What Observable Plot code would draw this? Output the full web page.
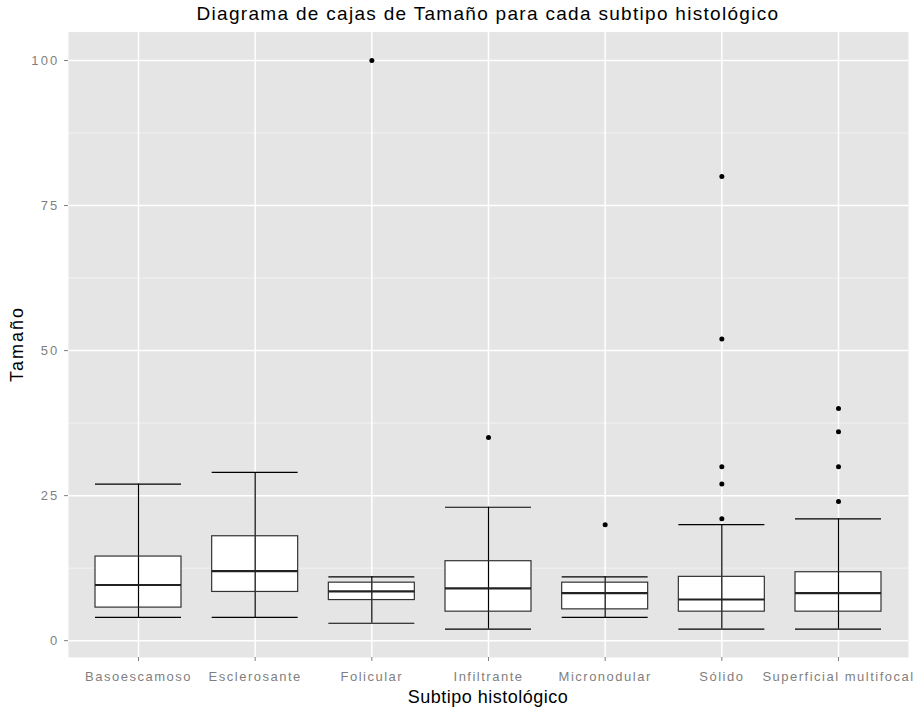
<!DOCTYPE html>
<html><head><meta charset="utf-8">
<script src="https://cdn.jsdelivr.net/npm/d3@7"></script>
<script src="https://cdn.jsdelivr.net/npm/@observablehq/plot@0.6"></script>
<style>
body{margin:0;background:#fff;font-family:"Liberation Sans",Arial,sans-serif;}
#wrap{position:relative;width:921px;height:711px;overflow:hidden;}
#title{position:absolute;left:68px;width:840px;top:4px;line-height:20px;text-align:center;font-size:19px;letter-spacing:1.3px;color:#000;white-space:nowrap;}
#chart{position:absolute;left:0;top:28px;}
#xlab{position:absolute;left:68px;width:840px;top:688px;line-height:18px;text-align:center;font-size:18px;letter-spacing:0.5px;color:#000;white-space:nowrap;}
#ylab{position:absolute;left:17px;top:344px;transform:translate(-50%,-50%) rotate(-90deg);font-size:18px;letter-spacing:2px;color:#000;white-space:nowrap;}
g[aria-label="x-axis tick label"] text{letter-spacing:1.5px;}
g[aria-label="y-axis tick label"] text{letter-spacing:2.2px;}
</style></head><body>
<div id="wrap">
<div id="title">Diagrama de cajas de Tamaño para cada subtipo histológico</div>
<div id="chart"></div>
<div id="xlab">Subtipo histológico</div>
<div id="ylab">Tamaño</div>
</div>
<script>
const categories = ["Basoescamoso","Esclerosante","Folicular","Infiltrante","Micronodular","Sólido","Superficial multifocal"];
const lowerWhisker = [4, 4, 3, 2, 4, 2, 2];
const q1 = [5.7, 8.4, 7, 5, 5.4, 5, 5];
const median = [9.6, 12, 8.5, 9, 8.2, 7.1, 8.2];
const q3 = [14.5, 18, 10, 13.7, 10, 11, 11.8];
const upperWhisker = [27, 29, 11, 23, 11, 20, 21];
const outlierCat = ["Folicular","Infiltrante","Micronodular","Sólido","Sólido","Sólido","Sólido","Sólido","Superficial multifocal","Superficial multifocal","Superficial multifocal","Superficial multifocal"];
const outlierVal = [100, 35, 20, 80, 52, 30, 27, 21, 40, 36, 30, 24];
const yTicks = [0, 25, 50, 75, 100];
const yMinor = [12.5, 37.5, 62.5, 87.5];

const stats = categories.map((c, i) => ({cat: c, lo: lowerWhisker[i], q1: q1[i], med: median[i], q3: q3[i], hi: upperWhisker[i]}));
const outliers = outlierCat.map((c, i) => ({cat: c, v: outlierVal[i]}));

const chart = Plot.plot({
  width: 921, height: 683,
  marginLeft: 68, marginRight: 13, marginTop: 3.6, marginBottom: 54,
  x: {domain: categories, paddingInner: 0.263, paddingOuter: 0.2315, round: false, label: null},
  y: {domain: [-2.9, 104.9], label: null},
  style: {fontFamily: "Liberation Sans, Arial, sans-serif", background: "white", overflow: "visible"},
  marks: [
    Plot.frame({fill: "#e5e5e5", stroke: null}),
    Plot.ruleY(yMinor, {stroke: "#f2f2f2", strokeWidth: 1}),
    Plot.ruleY(yTicks, {stroke: "white", strokeWidth: 1.5}),
    Plot.ruleX(categories, {x: d => d, stroke: "white", strokeWidth: 1.5}),
    Plot.barY(stats, {x: "cat", y1: "q1", y2: "q3", fill: "white"}),
    Plot.ruleX(stats, {x: "cat", y1: "lo", y2: "hi", stroke: "#000", strokeWidth: 1.2}),
    Plot.barY(stats, {x: "cat", y1: "q1", y2: "q3", fill: "none", stroke: "#333", strokeWidth: 1.2}),
    Plot.tickY(stats, {x: "cat", y: "lo", stroke: "#000", strokeWidth: 1.2}),
    Plot.tickY(stats, {x: "cat", y: "hi", stroke: "#000", strokeWidth: 1.2}),
    Plot.tickY(stats, {x: "cat", y: "med", stroke: "#222", strokeWidth: 2.2}),
    Plot.dot(outliers, {x: "cat", y: "v", r: 2.5, fill: "#000", stroke: null}),
    Plot.axisY({ticks: yTicks, tickSize: 4, tickPadding: 5, color: "#7f7f7f", fontSize: 13, label: null}),
    Plot.axisX({tickSize: 4, tickPadding: 10, color: "#7f7f7f", fontSize: 13, label: null})
  ]
});
document.getElementById("chart").appendChild(chart);
</script>
</body></html>
